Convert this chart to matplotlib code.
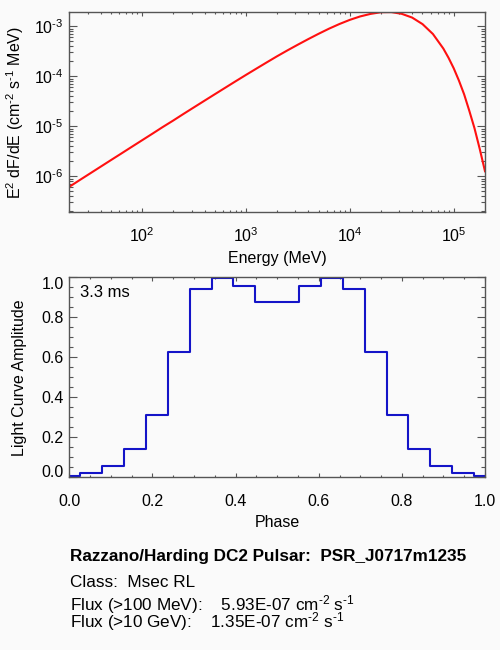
#!/usr/bin/env python3

import numpy as np
import matplotlib
matplotlib.use("Agg")
import matplotlib.pyplot as plt
from matplotlib.ticker import (LogLocator, MultipleLocator, FormatStrFormatter,
                               NullFormatter, FuncFormatter)

plt.rcParams['font.family'] = ['Liberation Sans', 'DejaVu Sans']
plt.rcParams['mathtext.fontset'] = 'custom'
plt.rcParams['mathtext.rm'] = 'Liberation Sans'
plt.rcParams['mathtext.it'] = 'Liberation Sans'
plt.rcParams['mathtext.bf'] = 'Liberation Sans:bold'

HY = '\u2010'  # short hyphen for exponents, like the original

# spectrum (MeV, E^2 dF/dE)
energy = [20, 25.1, 31.6, 39.8, 50.1, 63.1, 79.4, 100, 126, 158, 200, 251, 316, 398,
          501, 631, 794, 1000, 1259, 1585, 1995, 2512, 3162, 3981, 5012, 6310, 7943,
          10000, 12589, 15849, 19953, 25119, 31623, 39811, 50119, 63096, 79433,
          89125, 100000, 112202, 125893, 141254, 158489, 177828, 200000]
e2dfde = [6.16e-7, 8.36e-7, 1.135e-6, 1.542e-6, 2.094e-6, 2.84e-6, 3.855e-6, 5.23e-6,
          7.10e-6, 9.62e-6, 1.303e-5, 1.766e-5, 2.388e-5, 3.228e-5, 4.355e-5, 5.875e-5,
          7.91e-5, 1.062e-4, 1.419e-4, 1.892e-4, 2.512e-4, 3.296e-4, 4.285e-4, 5.534e-4,
          7.079e-4, 8.954e-4, 1.109e-3, 1.343e-3, 1.574e-3, 1.770e-3, 1.91e-3, 1.92e-3,
          1.774e-3, 1.493e-3, 1.104e-3, 7.0e-4, 3.589e-4,
          2.344e-4, 1.445e-4, 8.22e-5, 4.365e-5, 2.04e-5, 9.12e-6, 3.55e-6, 1.26e-6]

# light curve, 19 bins (centres)
phase = [0.0, 0.0526, 0.1053, 0.1579, 0.2105, 0.2632, 0.3158, 0.3684, 0.4211, 0.4737,
         0.5263, 0.5789, 0.6316, 0.6842, 0.7368, 0.7895, 0.8421, 0.8947, 0.9474, 1.0]
amplitude = [0.006, 0.023, 0.058, 0.14, 0.31, 0.627, 0.94, 0.995, 0.957, 0.878,
             0.878, 0.957, 0.995, 0.94, 0.627, 0.31, 0.14, 0.058, 0.023, 0.006]

period_text = "3.3 ms"
units = "cm$^{" + HY + "2}$ s$^{" + HY + "1}$"
info_lines = [
    ("Razzano/Harding DC2 Pulsar:  PSR_J0717m1235", "bold"),
    ("Class:  Msec RL", "normal"),
    ("Flux (>100 MeV):    5.93E-07 " + units, "normal"),
    ("Flux (>10 GeV):    1.35E-07 " + units, "normal"),
]

BG = '#fafafa'
FRAME = '#555555'
FS = 11.5

W, H = 500, 650
fig = plt.figure(figsize=(W / 100, H / 100), dpi=100, facecolor=BG)


def px_axes(left, top, right, bottom):
    return fig.add_axes([left / W, 1 - bottom / H, (right - left) / W, (bottom - top) / H])


def style_axes(ax, xpad):
    ax.set_facecolor(BG)
    for s in ax.spines.values():
        s.set_color(FRAME)
        s.set_linewidth(1.0)
    ax.tick_params(which='both', direction='in', top=True, right=True,
                   color=FRAME, width=0.8, labelsize=FS, labelcolor='black')
    ax.tick_params(axis='y', which='major', length=5.8, pad=4)
    ax.tick_params(axis='y', which='minor', length=2.9)
    ax.tick_params(axis='x', which='major', length=2.9, pad=xpad)
    ax.tick_params(axis='x', which='minor', length=1.5)


def decade_label(v, pos):
    e = int(round(np.log10(v)))
    return "$10^{" + str(e).replace('-', HY) + "}$"


# spectrum panel
ax1 = px_axes(69.3, 12, 485, 212)
style_axes(ax1, 10)
ax1.plot(energy, e2dfde, color='#ff1010', lw=1.5)
ax1.set_xscale('log')
ax1.set_yscale('log')
ax1.set_xlim(20, 2e5)
ax1.set_ylim(1.93e-7, 1.93e-3)
for axis in (ax1.xaxis, ax1.yaxis):
    axis.set_major_locator(LogLocator(base=10, numticks=20))
    axis.set_minor_locator(LogLocator(base=10, subs=np.arange(2, 10), numticks=20))
    axis.set_major_formatter(FuncFormatter(decade_label))
    axis.set_minor_formatter(NullFormatter())
ax1.set_xlabel("Energy (MeV)", fontsize=FS)
ax1.xaxis.set_label_coords(0.5, -0.195)
ax1.set_ylabel("E$^2$ dF/dE (" + units + " MeV)", fontsize=FS)
ax1.yaxis.set_label_coords(-0.104, 0.5)

# light curve panel
ax2 = px_axes(69.3, 277.3, 485, 477.3)
style_axes(ax2, 12)
ax2.step(phase, amplitude, where='mid', color='#1414c8', lw=1.5)
ax2.set_xlim(0, 1)
ax2.set_ylim(0, 1)
ax2.xaxis.set_major_locator(MultipleLocator(0.2))
ax2.xaxis.set_minor_locator(MultipleLocator(0.05))
ax2.yaxis.set_major_locator(MultipleLocator(0.2))
ax2.yaxis.set_minor_locator(MultipleLocator(0.05))
ax2.xaxis.set_major_formatter(FormatStrFormatter('%.1f'))
ax2.yaxis.set_major_formatter(FormatStrFormatter('%.1f'))
ax2.set_xlabel("Phase", fontsize=FS)
ax2.xaxis.set_label_coords(0.5, -0.188)
ax2.set_ylabel("Light Curve Amplitude", fontsize=FS)
ax2.yaxis.set_label_coords(-0.101, 0.5)
ax2.text(80 / W, 1 - 297.3 / H, period_text, transform=fig.transFigure,
         fontsize=12, va='baseline', ha='left')

# info text under the panels
baselines = [561.5, 587, 610.7, 627.5]
for (line, weight), yb in zip(info_lines, baselines):
    fig.text(70 / W, 1 - yb / H, line, fontsize=12.3, fontweight=weight,
             va='baseline', ha='left')

# end labels of the amplitude axis sit inside the frame, as in the original
fig.canvas.draw()
for tick in ax2.yaxis.get_major_ticks():
    loc = tick.get_loc()
    if abs(loc - 1.0) < 1e-6:
        tick.label1.set_verticalalignment('top')
    elif abs(loc) < 1e-6:
        tick.label1.set_verticalalignment('baseline')

fig.savefig("out.png", dpi=100, facecolor=BG)
plt.close(fig)
